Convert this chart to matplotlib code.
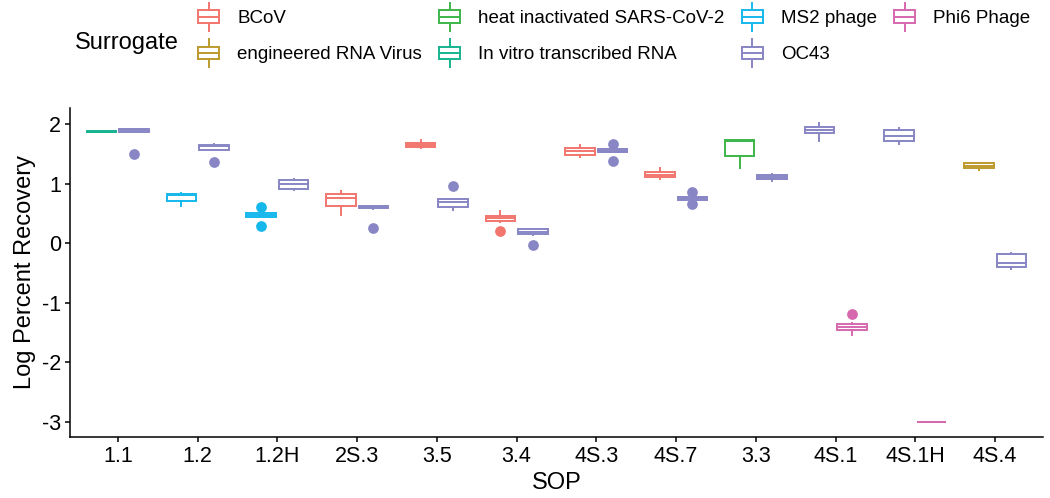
import matplotlib
matplotlib.use("Agg")
import matplotlib.pyplot as plt
from matplotlib.legend_handler import HandlerBase
from matplotlib.patches import Rectangle
from matplotlib.lines import Line2D

plt.rcParams['font.family'] = ['Liberation Sans', 'DejaVu Sans']
plt.rcParams['axes.unicode_minus'] = False

# x categories (in plotted order)
sops = ["1.1", "1.2", "1.2H", "2S.3", "3.5", "3.4", "4S.3", "4S.7", "3.3", "4S.1", "4S.1H", "4S.4"]

# legend order = factor order (also the dodge order inside a SOP)
surrogates = ["BCoV", "engineered RNA Virus", "heat inactivated SARS-CoV-2",
              "In vitro transcribed RNA", "MS2 phage", "OC43", "Phi6 Phage"]
colors = ["#F2766E", "#BE9A2C", "#3DB54A", "#17B38F", "#16B8EC", "#8886C4", "#D668AE"]

# box summaries (log percent recovery)
box_sop = ["1.1", "1.1", "1.2", "1.2", "1.2H", "1.2H", "2S.3", "2S.3", "3.5", "3.5",
           "3.4", "3.4", "4S.3", "4S.3", "4S.7", "4S.7", "3.3", "3.3", "4S.1", "4S.1",
           "4S.1H", "4S.1H", "4S.4", "4S.4"]
box_surrogate = ["In vitro transcribed RNA", "OC43", "MS2 phage", "OC43", "MS2 phage", "OC43",
                 "BCoV", "OC43", "BCoV", "OC43", "BCoV", "OC43", "BCoV", "OC43", "BCoV", "OC43",
                 "heat inactivated SARS-CoV-2", "OC43", "OC43", "Phi6 Phage", "OC43", "Phi6 Phage",
                 "engineered RNA Virus", "OC43"]
box_whislo = [1.86, 1.87, 0.63, 1.56, 0.43, 0.90, 0.476, 0.58, 1.593, 0.56, 0.36, 0.14,
              1.44, 1.53, 1.08, 0.72, 1.256, 1.05, 1.72, -1.549, 1.66, -3.0, 1.222, -0.43]
box_q1 = [1.865, 1.875, 0.70, 1.57, 0.44, 0.91, 0.63, 0.585, 1.62, 0.60, 0.365, 0.15,
          1.48, 1.535, 1.105, 0.725, 1.455, 1.075, 1.845, -1.465, 1.71, -3.0, 1.26, -0.41]
box_med = [1.875, 1.90, 0.80, 1.63, 0.47, 1.00, 0.75, 0.60, 1.65, 0.69, 0.42, 0.19,
           1.54, 1.555, 1.15, 0.75, 1.71, 1.11, 1.907, -1.414, 1.806, -3.0, 1.30, -0.33]
box_q3 = [1.885, 1.915, 0.83, 1.655, 0.50, 1.06, 0.83, 0.625, 1.68, 0.735, 0.455, 0.23,
          1.59, 1.575, 1.19, 0.78, 1.73, 1.15, 1.95, -1.36, 1.905, -3.0, 1.345, -0.19]
box_whishi = [1.89, 1.925, 0.84, 1.66, 0.51, 1.07, 0.875, 0.63, 1.734, 0.74, 0.544, 0.235,
              1.65, 1.58, 1.262, 0.785, 1.735, 1.155, 2.02, -1.35, 1.93, -3.0, 1.35, -0.168]
box_fliers = [[], [1.50], [], [1.37], [0.606, 0.28], [], [], [0.252], [], [0.965],
              [0.195], [-0.03], [], [1.667, 1.386], [], [0.858, 0.66], [], [], [], [-1.195],
              [], [], [], []]


class BoxKey(HandlerBase):
    # boxplot-style legend key like ggplot's
    def create_artists(self, legend, orig_handle, xdescent, ydescent, width, height, fontsize, trans):
        c = orig_handle.get_edgecolor()
        cx = -xdescent + width / 2
        y0 = -ydescent
        bw = width * 0.85
        box = Rectangle((cx - bw / 2, y0 + height * 0.27), bw, height * 0.46,
                        facecolor="white", edgecolor=c, lw=1.4, transform=trans)
        med = Line2D([cx - bw / 2, cx + bw / 2], [y0 + height / 2] * 2, color=c, lw=1.4, transform=trans)
        wt = Line2D([cx, cx], [y0 + height * 0.73, y0 + height], color=c, lw=1.4, transform=trans)
        wb = Line2D([cx, cx], [y0, y0 + height * 0.27], color=c, lw=1.4, transform=trans)
        return [wb, wt, box, med]


def main():
    fig = plt.figure(figsize=(10.5, 4.98), dpi=100)
    ax = fig.add_axes([70 / 1050, 1 - 436.7 / 498, (1043 - 70) / 1050, (436.7 - 108) / 498])

    offset = 0.205
    width = 0.37
    for i in range(len(box_sop)):
        sop = box_sop[i]
        s = box_surrogate[i]
        # dodge: order of surrogates inside this sop
        here = sorted([box_surrogate[j] for j in range(len(box_sop)) if box_sop[j] == sop],
                      key=surrogates.index)
        n = len(here)
        k = here.index(s)
        pos = sops.index(sop) + 1 + (k - (n - 1) / 2) * 2 * offset
        c = colors[surrogates.index(s)]
        stats = [dict(med=box_med[i], q1=box_q1[i], q3=box_q3[i],
                      whislo=box_whislo[i], whishi=box_whishi[i], fliers=box_fliers[i])]
        ax.bxp(stats, positions=[pos], widths=width, patch_artist=True, showcaps=False,
               boxprops=dict(facecolor="white", edgecolor=c, lw=1.4),
               medianprops=dict(color=c, lw=1.4, solid_capstyle="butt"),
               whiskerprops=dict(color=c, lw=1.4),
               flierprops=dict(marker="o", markerfacecolor=c, markeredgecolor=c, markersize=6.7))

    ax.set_xlim(0.4, 12.6)
    ax.set_ylim(-3.254, 2.27)
    ax.set_xticks(range(1, len(sops) + 1))
    ax.set_xticklabels(sops)
    ax.set_yticks([-3, -2, -1, 0, 1, 2])
    ax.set_yticklabels(["-3", "-2", "-1", "0", "1", "2"])
    for side in ["top", "right"]:
        ax.spines[side].set_visible(False)
    for side in ["left", "bottom"]:
        ax.spines[side].set_linewidth(1.1)
    ax.tick_params(length=3.6, width=1.1, labelsize=15.5, pad=3, colors="black")
    ax.set_xlabel("SOP", fontsize=17, labelpad=4)
    ax.set_ylabel("Log Percent Recovery", fontsize=17, labelpad=4)

    handles = [Rectangle((0, 0), 1, 1, facecolor="white", edgecolor=c) for c in colors]
    fig.legend(handles, surrogates, ncol=4, loc="upper left",
               bbox_to_anchor=(196 / 1050, 1 - 3 / 498), frameon=False, borderpad=0,
               borderaxespad=0, handlelength=1.35, handleheight=1.9, handletextpad=0.85,
               columnspacing=0.8, labelspacing=0.45, fontsize=13.5,
               handler_map={Rectangle: BoxKey()})
    fig.text(75 / 1050, 1 - 43 / 498, "Surrogate", fontsize=17, va="center", ha="left")

    fig.savefig("out.png", dpi=100)


if __name__ == "__main__":
    main()
